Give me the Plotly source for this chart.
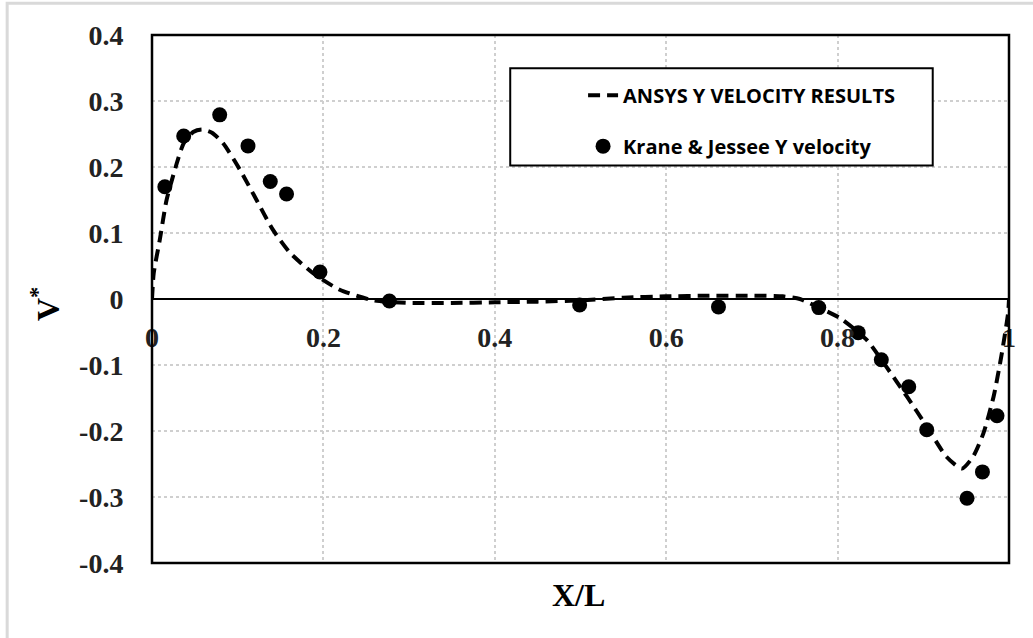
import plotly.graph_objects as go

# ANSYS dashed curve
curve_x = [0, 0.002, 0.009, 0.017, 0.029, 0.037, 0.048, 0.058, 0.070, 0.083, 0.103, 0.122,
           0.141, 0.161, 0.188, 0.219, 0.258, 0.30, 0.35, 0.40, 0.45, 0.50, 0.55, 0.60,
           0.65, 0.70, 0.736, 0.756, 0.778, 0.803, 0.834, 0.857, 0.881, 0.904, 0.927,
           0.945, 0.958, 0.970, 0.982, 0.991, 0.999, 1.0]
curve_y = [0, 0.039, 0.089, 0.150, 0.206, 0.236, 0.253, 0.257, 0.252, 0.236, 0.195, 0.150,
           0.105, 0.070, 0.039, 0.014, -0.002, -0.006, -0.006, -0.005, -0.004, -0.002, 0.002, 0.004,
           0.005, 0.005, 0.004, 0.0, -0.013, -0.029, -0.062, -0.103, -0.148, -0.193, -0.239,
           -0.257, -0.239, -0.204, -0.148, -0.087, -0.021, 0.0]

# Krane & Jessee points
exp_x = [0.015, 0.037, 0.079, 0.112, 0.138, 0.157, 0.196, 0.277, 0.499, 0.661,
         0.778, 0.824, 0.851, 0.883, 0.904, 0.951, 0.969, 0.986]
exp_y = [0.170, 0.247, 0.279, 0.232, 0.178, 0.159, 0.041, -0.003, -0.009, -0.012,
         -0.013, -0.051, -0.092, -0.133, -0.198, -0.302, -0.262, -0.177]

x_ticks = [0, 0.2, 0.4, 0.6, 0.8, 1]
x_tick_labels = ["0", "0.2", "0.4", "0.6", "0.8", "1"]
y_ticks = [-0.4, -0.3, -0.2, -0.1, 0, 0.1, 0.2, 0.3, 0.4]
y_tick_labels = ["-0.4", "-0.3", "-0.2", "-0.1", "0", "0.1", "0.2", "0.3", "0.4"]

serif = "Liberation Serif"
legend_font = "Open Sans"

fig = go.Figure()
fig.add_trace(go.Scatter(
    x=curve_x, y=curve_y, mode="lines", name="ANSYS Y VELOCITY RESULTS",
    line=dict(color="black", width=4, dash="12px,7px", shape="spline", smoothing=0.6),
    legendgroup="a",
))
fig.add_trace(go.Scatter(
    x=exp_x, y=exp_y, mode="markers", name="Krane & Jessee Y velocity",
    marker=dict(color="black", size=15), legendgroup="b",
))

fig.update_layout(
    width=1033, height=638,
    margin=dict(l=152, r=24, t=35, b=75),
    plot_bgcolor="white", paper_bgcolor="white",
    showlegend=True,
    legend=dict(
        x=0.503, xanchor="left", y=0.923, yanchor="top",
        bgcolor="rgba(0,0,0,0)", borderwidth=0,
        font=dict(family=legend_font, size=20, color="black", weight="bold"),
        tracegroupgap=22, traceorder="grouped",
    ),
    xaxis=dict(
        range=[0, 1], tickvals=x_ticks, ticktext=x_tick_labels,
        anchor="free", position=0.5,
        showgrid=True, gridcolor="#cfcfcf", griddash="dot", gridwidth=1.5,
        zeroline=False, showline=False,
        ticks="outside", ticklen=13, tickcolor="rgba(0,0,0,0)",
        tickfont=dict(family=serif, size=28, color="#222", weight="bold"),
    ),
    yaxis=dict(
        range=[-0.4, 0.4], tickvals=y_ticks, ticktext=y_tick_labels,
        showgrid=True, gridcolor="#cfcfcf", griddash="dot", gridwidth=1.5,
        zeroline=True, zerolinecolor="black", zerolinewidth=2,
        showline=False,
        ticks="outside", ticklen=22, tickcolor="rgba(0,0,0,0)",
        tickfont=dict(family=serif, size=28, color="#222", weight="bold"),
    ),
    shapes=[
        # plot frame
        dict(type="rect", xref="paper", yref="paper", x0=0, x1=1, y0=0, y1=1,
             line=dict(color="black", width=2.5), layer="above"),
        # legend box
        dict(type="rect", xref="paper", yref="paper", x0=0.418, x1=0.911, y0=0.753, y1=0.937,
             line=dict(color="black", width=2), fillcolor="white", layer="above"),
        # outer light border
        dict(type="rect", xref="paper", yref="paper", x0=-0.169, x1=1.2, y0=-0.3, y1=1.06,
             line=dict(color="#d9d9d9", width=3), layer="below"),
    ],
    annotations=[
        dict(text="X/L", xref="paper", yref="paper", x=0.498, y=-0.0605,
             xanchor="center", yanchor="middle",
             showarrow=False, font=dict(family=serif, size=32, color="black", weight="bold")),
        dict(text="V<sup>*</sup>", xref="paper", yref="paper", x=-0.124, y=0.49,
             xanchor="center", yanchor="middle",
             textangle=-90, showarrow=False,
             font=dict(family=serif, size=32, color="black", weight="bold")),
    ],
)

fig.write_html("out.html", config={"displayModeBar": False},
               post_script="document.body.style.margin='0';")
